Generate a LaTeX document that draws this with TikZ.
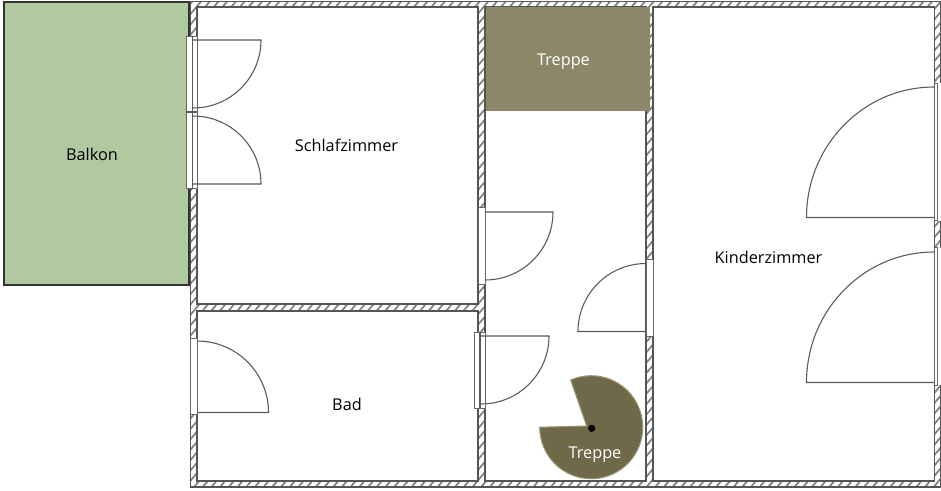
\documentclass[tikz,border=0pt]{standalone}
\usepackage{fontspec}
\setmainfont{Open Sans}
\usetikzlibrary{patterns.meta}
\definecolor{balkongreen}{HTML}{B0C9A0}
\definecolor{treppetop}{HTML}{8D8769}
\definecolor{treppelow}{HTML}{6F6849}
\definecolor{treppeedge}{HTML}{9A9678}
\definecolor{wallline}{HTML}{555555}
\tikzset{
  wall/.style={draw=wallline,line width=1.1pt,even odd rule,
    pattern={Lines[angle=50,distance=5pt,line width=1.3pt]},pattern color=black!50},
  opening/.style={draw=black!60,line width=0.7pt,fill=white},
  leaf/.style={draw=black!65,line width=0.8pt},
  roomlabel/.style={inner sep=0pt,font=\fontsize{12.2}{14}\selectfont},
  stairlabel/.style={roomlabel,text=white}
}
\begin{document}
\begin{tikzpicture}[x=0.75pt,y=0.75pt]
\useasboundingbox (0,0) rectangle (941,-490);
\fill [white] (0,0) rectangle (941,-490);
\draw [fill=balkongreen,draw=black!80,line width=0.8pt] (4,-2) rectangle (189,-285);
\path [wall] (190.5,-1.5) rectangle (941,-487)
  (197,-7) rectangle (478,-304)
  (197,-311) rectangle (478,-481)
  (485,-7) rectangle (646,-481)
  (653,-7) rectangle (934.5,-481);
% Schlafzimmer
\draw [opening] (186.5,-36) rectangle (197,-188);
\draw [leaf] (192.5,-36) -- (192.5,-188);
\draw [leaf] (186.5,-112) -- (197,-112);
\draw [leaf] (193,-108) arc (-90:0:68) -- (193,-40);
\draw [leaf] (193,-116) arc (90:0:68) -- (193,-184);
% Bad
\draw [opening] (190.5,-338) rectangle (197,-414);
\draw [leaf] (197,-341) arc (90:0:71.5) -- (197,-412.5);
% Flur
\draw [opening] (478,-207) rectangle (485,-284);
\draw [leaf] (485,-280) arc (-90:0:68) -- (485,-212);
\draw [opening] (646,-259) rectangle (653,-336);
\draw [leaf] (646,-263.5) arc (90:180:68) -- (646,-331.5);
\draw [opening] (474,-332) rectangle (485,-408);
\draw [leaf] (480,-332) -- (480,-408);
\draw [leaf] (481,-404) arc (-90:0:68) -- (481,-336);
% Kinderzimmer
\fill [white] (935,-83) rectangle (941,-220.5);
\fill [white] (935,-247.5) rectangle (941,-385);
\draw [opening] (934,-83) rectangle (937.5,-220.5);
\draw [leaf] (934,-87) arc [start angle=90,end angle=180,x radius=127.5,y radius=130.5] -- (934,-217.5);
\draw [opening] (934,-247.5) rectangle (937.5,-385);
\draw [leaf] (934,-252) arc [start angle=90,end angle=180,x radius=127.5,y radius=130.5] -- (934,-382.5);
% Treppen
\fill [treppetop] (486,-7) rectangle (650,-111);
\draw [fill=treppelow,draw=treppeedge,line width=0.8pt]
  (586.7,-426) -- (570.7,-380) arc (113.5:-180:51.5) -- cycle;
\fill [black] (591.7,-428.3) circle (3.6);
% Beschriftung
\node [roomlabel] (balkon) at (92,-154) {Balkon};
\node [roomlabel] (schlafzimmer) at (346.5,-145) {Schlafzimmer};
\node [roomlabel] (bad) at (347,-404) {Bad};
\node [roomlabel] (kinderzimmer) at (768.5,-257) {Kinderzimmer};
\node [stairlabel] (treppeoben) at (563.5,-62) {Treppe};
\node [stairlabel] (treppeunten) at (595,-455) {Treppe};
\end{tikzpicture}
\end{document}
